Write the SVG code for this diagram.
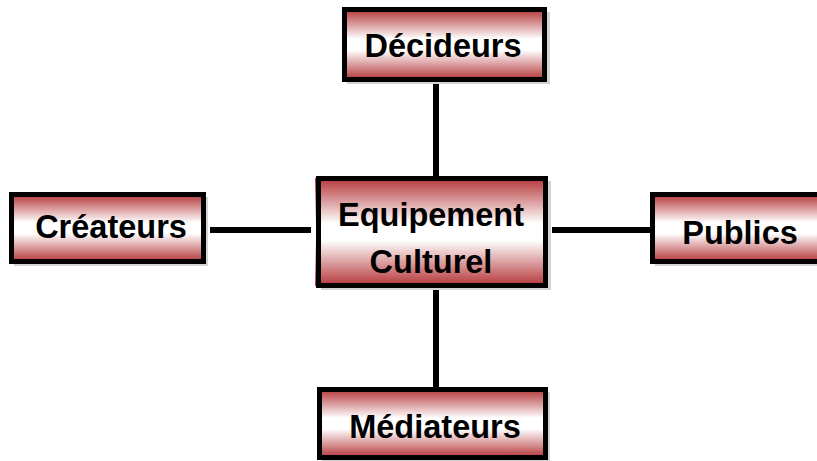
<svg xmlns="http://www.w3.org/2000/svg" width="817" height="461" viewBox="0 0 817 461">
<defs>
<linearGradient id="g" x1="0" y1="0" x2="0" y2="1">
<stop offset="0" stop-color="#b5373a"/>
<stop offset="0.42" stop-color="#ffffff"/>
<stop offset="0.58" stop-color="#ffffff"/>
<stop offset="1" stop-color="#b5373a"/>
</linearGradient>
</defs>
<style>
.sh{fill:#d4d4d4;}
.box{fill:url(#g);stroke:#000;stroke-width:5;}
.t{font-family:"Liberation Sans",Arial,sans-serif;font-weight:bold;font-size:32.5px;fill:#000;text-anchor:middle;}
.c{stroke:#000;stroke-width:6;fill:none;}
</style>
<g id="connectors">
<line class="c" x1="436" y1="80" x2="436" y2="178"/>
<line class="c" x1="436" y1="286" x2="436" y2="389"/>
<line class="c" x1="210" y1="230" x2="311" y2="230"/>
<line class="c" x1="552" y1="230" x2="651" y2="230"/>
</g>
<g id="decideurs">
<rect class="sh" x="347" y="12" width="203" height="72"/>
<rect class="box" x="344.5" y="9.5" width="200" height="70"/>
<text class="t" x="443" y="57">Décideurs</text>
</g>
<g id="equipement">
<rect class="sh" x="321" y="181" width="230" height="109"/>
<rect x="315" y="178" width="233" height="108" fill="url(#g)"/>
<rect class="box" x="318.5" y="178.5" width="227" height="107"/>
<text class="t" x="431" y="226">Equipement</text>
<text class="t" x="431" y="273">Culturel</text>
</g>
<g id="createurs">
<rect class="sh" x="14" y="197" width="194" height="69"/>
<rect class="box" x="11.5" y="194.5" width="192" height="67"/>
<text class="t" x="111" y="238">Créateurs</text>
</g>
<g id="publics">
<rect class="sh" x="655" y="197" width="170" height="69"/>
<rect class="box" x="652.5" y="194.5" width="170" height="67"/>
<text class="t" x="740" y="244">Publics</text>
</g>
<g id="mediateurs">
<rect class="sh" x="322" y="392" width="228" height="72"/>
<rect class="box" x="319.5" y="389.5" width="226" height="68"/>
<text class="t" x="435" y="438">Médiateurs</text>
</g>
</svg>
